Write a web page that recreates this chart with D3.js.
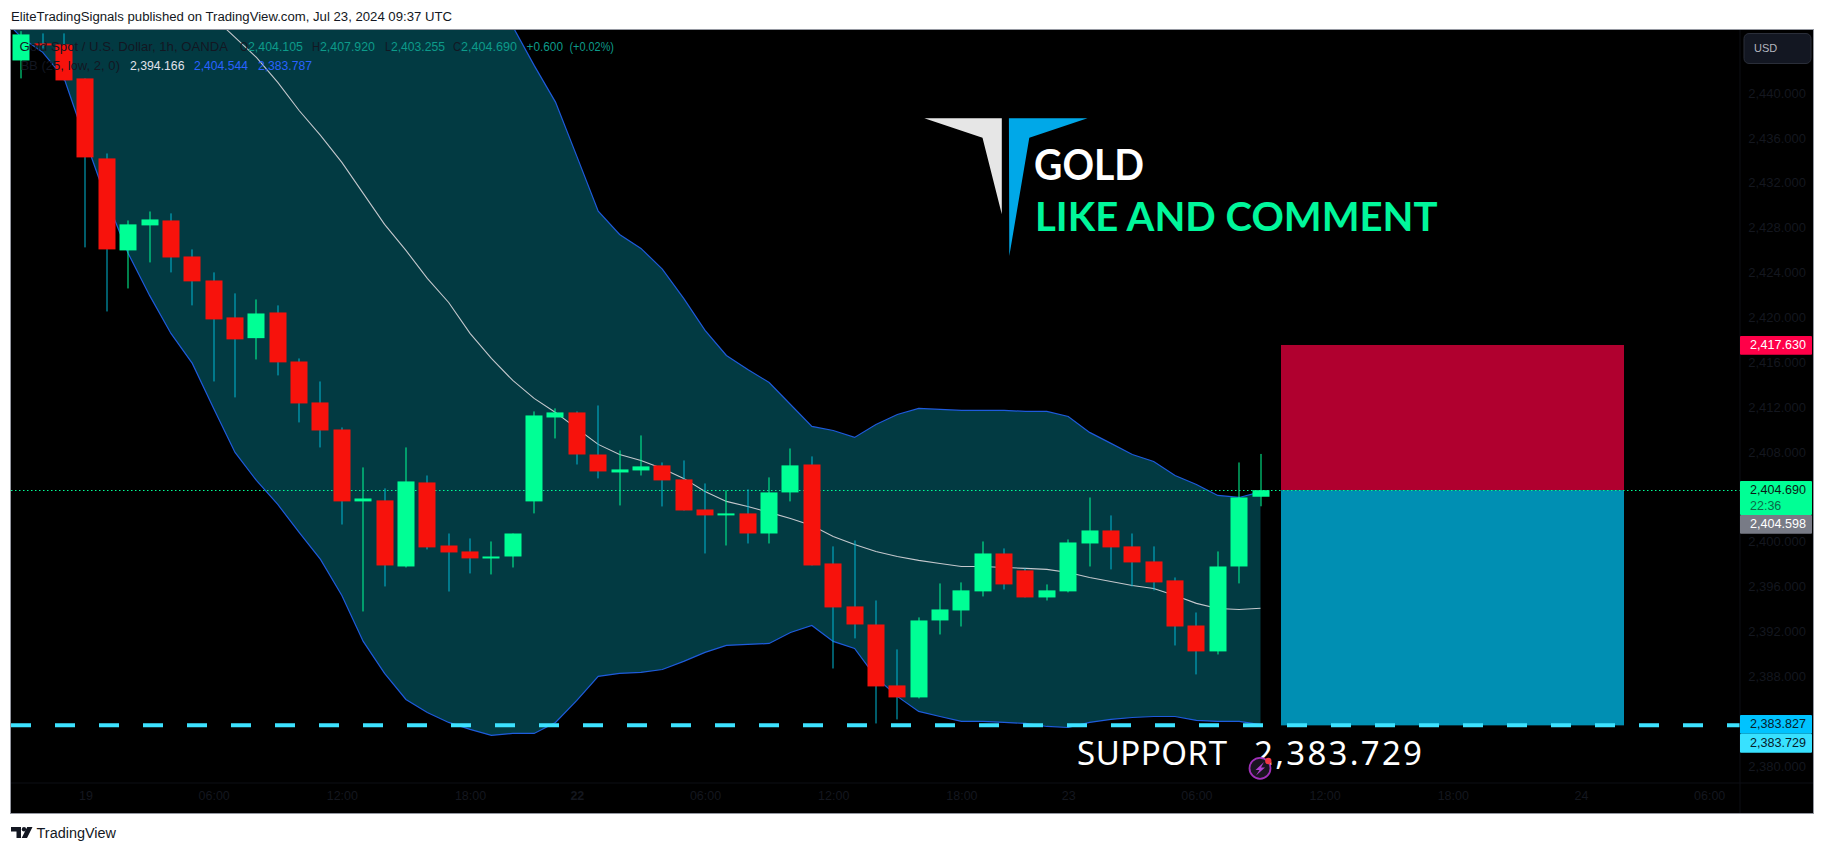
<!DOCTYPE html>
<html><head><meta charset="utf-8">
<script src="https://cdn.jsdelivr.net/npm/d3@7/dist/d3.min.js"></script>
<style>html,body{margin:0;padding:0;background:#fff;overflow:hidden}svg{display:block}text{font-family:"Liberation Sans",sans-serif}</style>
</head><body><svg id="c" width="1825" height="853"></svg>
<script>
const opens=[2442.99,2444.51,2444.42,2441.39,2434.26,2426.06,2428.29,2428.73,2425.52,2423.38,2420.09,2418.24,2420.53,2416.16,2412.51,2410.10,2403.69,2403.78,2397.89,2405.38,2399.76,2399.23,2398.61,2398.78,2403.69,2411.17,2411.62,2407.87,2406.27,2406.45,2406.90,2405.65,2402.97,2402.53,2402.62,2400.83,2404.49,2406.98,2398.16,2394.33,2392.72,2387.29,2386.22,2393.08,2393.97,2395.67,2399.05,2397.54,2395.13,2395.67,2399.94,2401.10,2399.68,2398.34,2396.65,2392.63,2390.32,2397.89,2404.105];
const highs=[2445.60,2445.40,2445.40,2441.39,2434.70,2428.73,2429.53,2429.36,2426.15,2424.10,2422.23,2421.69,2421.16,2416.43,2414.38,2410.28,2406.72,2404.85,2408.50,2406.00,2400.83,2400.39,2400.12,2400.83,2411.71,2411.98,2411.71,2412.24,2408.23,2409.57,2407.16,2407.34,2405.29,2404.67,2404.76,2405.83,2408.41,2407.70,2399.68,2400.21,2394.86,2390.50,2393.35,2396.38,2396.47,2400.12,2399.50,2397.72,2396.29,2400.30,2404.04,2402.44,2400.83,2399.68,2396.91,2393.79,2399.23,2407.16,2407.92];
const lows=[2441.39,2444.06,2441.21,2426.33,2420.62,2422.67,2424.99,2424.10,2421.16,2414.38,2412.96,2416.34,2414.92,2410.73,2408.50,2401.63,2393.88,2396.11,2397.80,2399.41,2395.66,2397.27,2397.18,2397.80,2402.62,2409.30,2406.98,2405.74,2403.33,2406.00,2403.24,2402.88,2399.05,2399.76,2399.94,2399.94,2403.69,2397.98,2388.80,2391.48,2383.90,2384.26,2386.13,2391.83,2392.54,2395.22,2395.84,2395.13,2394.86,2395.58,2397.89,2397.63,2396.11,2395.76,2390.85,2388.27,2390.05,2396.38,2403.255];
const closes=[2445.31,2444.42,2441.21,2434.35,2426.15,2428.38,2428.82,2425.43,2423.30,2419.91,2418.13,2420.44,2416.08,2412.42,2410.01,2403.69,2403.95,2397.98,2405.47,2399.59,2399.14,2398.61,2398.78,2400.83,2411.35,2411.62,2407.87,2406.36,2406.54,2406.81,2405.56,2402.88,2402.44,2402.62,2400.83,2404.49,2406.90,2397.98,2394.24,2392.72,2387.20,2386.22,2393.08,2394.06,2395.76,2399.05,2396.29,2395.13,2395.76,2400.03,2401.10,2399.59,2398.25,2396.47,2392.54,2390.32,2397.89,2404.04,2404.69];
// Bollinger arrays start one bar before the first candle
const bbFirstBar=-1;
const bbUpper=[2490,2489,2488,2487,2486,2485,2484,2483,2482,2481,2480,2479,2478,2477,2476,2474,2472,2469,2466,2463,2459.5,2456.2,2453,2449.8,2446.02,2442.55,2439.28,2434.44,2429.56,2427.48,2426.24,2424.39,2421.78,2418.93,2416.70,2415.45,2414.29,2412.33,2410.37,2410.01,2409.39,2410.55,2411.44,2411.98,2411.89,2411.80,2411.80,2411.80,2411.71,2411.71,2411.26,2409.84,2408.86,2407.87,2407.25,2406.00,2405.20,2404.22,2404.04,2404.544];
const bbBasis=[2467,2466,2464.5,2463,2461,2459,2457,2454.5,2452,2449.5,2446.83,2445.04,2443.26,2441.03,2438.53,2436.31,2433.90,2431.14,2428.38,2426.06,2423.56,2421.42,2418.66,2416.43,2414.47,2412.87,2411.62,2410.19,2408.77,2407.87,2407.34,2406.63,2405.74,2404.58,2403.69,2403.24,2402.71,2402.17,2401.55,2400.57,2399.85,2399.23,2398.78,2398.43,2398.16,2397.89,2397.89,2397.80,2397.72,2397.63,2397.36,2396.91,2396.55,2396.20,2395.93,2395.31,2394.60,2394.15,2394.06,2394.166];
const bbLower=[2447.0,2445.04,2443.71,2441.39,2435.86,2430.51,2425.79,2422.05,2418.66,2415.99,2411.98,2408.05,2405.56,2403.42,2400.92,2398.52,2395.31,2391.21,2388.36,2386.04,2384.88,2383.99,2383.37,2382.83,2383.01,2383.01,2383.99,2385.95,2388.09,2388.36,2388.45,2388.71,2389.43,2390.23,2390.85,2390.94,2391.03,2392.01,2392.63,2391.21,2390.58,2388.00,2386.31,2384.97,2384.52,2384.08,2384.08,2383.99,2383.90,2383.63,2383.54,2383.99,2384.26,2384.43,2384.52,2384.52,2384.17,2384.08,2384.08,2383.787];
const priceTicks=[2380,2388,2392,2396,2400,2408,2412,2416,2420,2424,2428,2432,2436,2440];
const timeTickBars=[3,9,15,21,26,32,38,44,49,55,61,67,73,79];
const timeTickLabels=["19","06:00","12:00","18:00","22","06:00","12:00","18:00","23","06:00","12:00","18:00","24","06:00"];
const lastPrice=2404.69, prevLevel=2404.598, stopLevel=2417.63, bbLevel=2383.827, supportLevel=2383.729;
const positionBars=[59,75];

const svg=d3.select("#c");
const x=d3.scaleLinear().domain([0,58]).range([21.4,1260.5]);
const y=d3.scaleLinear().domain([2400,2440]).range([542.8,94]);
const L=11,R=1813,T=30,B=813,PR=1740,TB=783;
const txtDim="#14171f";

svg.append("rect").attr("x",L).attr("y",T).attr("width",R-L).attr("height",B-T).attr("fill","#000");
svg.append("defs").append("clipPath").attr("id","pane").append("rect").attr("x",L).attr("y",T).attr("width",PR-L).attr("height",TB-T);
const pane=svg.append("g").attr("clip-path","url(#pane)");

// Bollinger band
const bb=d3.range(bbUpper.length).map(i=>({i:i+bbFirstBar,u:bbUpper[i],m:bbBasis[i],l:bbLower[i]}));
pane.append("path").attr("d",d3.area().x(d=>x(d.i)).y0(d=>y(d.l)).y1(d=>y(d.u))(bb)).attr("fill","#023a42");
pane.append("path").attr("d",d3.line().x(d=>x(d.i)).y(d=>y(d.u))(bb)).attr("fill","none").attr("stroke","#1e5bdc").attr("stroke-width",1.2);
pane.append("path").attr("d",d3.line().x(d=>x(d.i)).y(d=>y(d.l))(bb)).attr("fill","none").attr("stroke","#1e5bdc").attr("stroke-width",1.2);
pane.append("path").attr("d",d3.line().x(d=>x(d.i)).y(d=>y(d.m))(bb)).attr("fill","none").attr("stroke","#c4c7cc").attr("stroke-width",1.1);

// position rectangles
const rx0=Math.floor(x(positionBars[0])), rx1=Math.round(x(positionBars[1]));
pane.append("rect").attr("x",rx0).attr("width",rx1-rx0).attr("y",y(stopLevel)).attr("height",y(lastPrice)-y(stopLevel)).attr("fill","#b0002f");
pane.append("rect").attr("x",rx0).attr("width",rx1-rx0).attr("y",y(lastPrice)).attr("height",y(supportLevel)-y(lastPrice)).attr("fill","#008fb3");

// last price dotted line
const ly=Math.floor(y(lastPrice))+0.5;
pane.append("line").attr("x1",L).attr("x2",PR).attr("y1",ly).attr("y2",ly).attr("stroke","#00ff95").attr("stroke-width",1).attr("stroke-dasharray","1.5 2.5");

// candles
const bars=d3.range(opens.length).map(i=>({i,o:opens[i],h:highs[i],l:lows[i],c:closes[i]}));
const g=pane.selectAll("g.k").data(bars).join("g").attr("class","k");
g.append("rect").attr("x",d=>Math.round(x(d.i))-0.5).attr("width",1).attr("y",d=>y(d.h)).attr("height",d=>y(d.l)-y(d.h)).attr("fill",d=>d.c>=d.o?"#00ff95":"#00b8d4");
g.append("rect").attr("x",d=>Math.round(x(d.i))-8.5).attr("width",17).attr("y",d=>y(Math.max(d.o,d.c))).attr("height",d=>Math.max(2,Math.abs(y(d.o)-y(d.c)))).attr("fill",d=>d.c>=d.o?"#00ff95":"#f7120c");

// support dashed line
pane.append("line").attr("x1",L).attr("x2",PR).attr("y1",y(supportLevel)).attr("y2",y(supportLevel)).attr("stroke","#3de2ff").attr("stroke-width",4).attr("stroke-dasharray","20 24");

// logo
pane.append("polygon").attr("points","924.3,118.3 1001.8,118.3 1001.8,214.3 982.5,137.7").attr("fill","#e6e6e6");
pane.append("polygon").attr("points","1008.9,118.3 1087.5,118.3 1029.3,137.7 1009.3,256").attr("fill","#00a8e8");
const big=[{t:"GOLD",x:1034,y:180,w:110,s:42,c:"#fff"},{t:"LIKE AND COMMENT",x:1035,y:230.7,w:402.5,s:41,c:"#00f79b"},{t:"SUPPORT",x:1077,y:765,w:150,s:33,c:"#fff"},{t:"2,383.729",x:1254,y:765,w:168,s:33,c:"#fff"}];
pane.selectAll("text.big").data(big).join("text").attr("class","big").attr("x",d=>d.x).attr("y",d=>d.y).attr("textLength",d=>d.w).attr("lengthAdjust",(d,i)=>i<2?"spacingAndGlyphs":"spacing").attr("fill",d=>d.c).attr("font-size",d=>d.s).style("font-family",(d,i)=>i<2?"Lato":"'Noto Sans'").attr("font-weight",(d,i)=>i<2?700:400).text(d=>d.t);

// news icon
const ic=pane.append("g");
ic.append("circle").attr("cx",1260).attr("cy",768.3).attr("r",10.5).attr("fill","#1a1420").attr("stroke","#a030b8").attr("stroke-width",1.8);
ic.append("polygon").attr("points","1264,762 1255.5,770 1259.5,770 1256,775.5 1265,767.5 1261,767.5").attr("fill","#b040d0");
ic.append("circle").attr("cx",1268.3).attr("cy",761).attr("r",3.2).attr("fill","#f23645");

// separators
svg.append("line").attr("x1",PR).attr("x2",PR).attr("y1",T).attr("y2",B).attr("stroke","#0c0e14");
svg.append("line").attr("x1",L).attr("x2",R).attr("y1",TB).attr("y2",TB).attr("stroke","#0c0e14");

// axes
const ya=svg.append("g").attr("transform",`translate(${PR+66},-1)`).call(d3.axisRight(y).tickValues(priceTicks).tickFormat(d3.format(",.3f")).tickSize(0).tickPadding(0));
ya.select(".domain").remove();
ya.selectAll("text").attr("text-anchor","end").attr("fill",txtDim).attr("font-size",13).style("font-family","'Liberation Sans'");
const xa=svg.append("g").attr("transform",`translate(0,${TB+8})`).call(d3.axisBottom(x).tickValues(timeTickBars).tickFormat((d,i)=>timeTickLabels[i]).tickSize(0).tickPadding(0));
xa.select(".domain").remove();
xa.selectAll("text").attr("fill",txtDim).attr("font-size",12.5).attr("font-weight",(d,i)=>timeTickLabels[i]==="22"?700:400).style("font-family","'Liberation Sans'");

// price labels
const tags=[
 {v:stopLevel,y0:336,y1:354.7,bg:"#ff0048",fg:"#fff",ty:344.3},
 {v:lastPrice,y0:481,y1:515,bg:"#00ff95",fg:"#0b1a14",ty:489.7},
 {v:prevLevel,y0:515,y1:533.7,bg:"#787b86",fg:"#fff",ty:523.7},
 {v:bbLevel,y0:715,y1:733.7,bg:"#00c3ff",fg:"#06202a",ty:723.7},
 {v:supportLevel,y0:733.7,y1:752.7,bg:"#38e1ff",fg:"#06202a",ty:742.7}];
const tg=svg.selectAll("g.t").data(tags).join("g").attr("class","t");
tg.append("rect").attr("x",PR).attr("width",R-1-PR).attr("y",d=>d.y0).attr("height",d=>d.y1-d.y0).attr("rx",1).attr("fill",d=>d.bg);
tg.append("text").attr("x",1750).attr("y",d=>d.ty).attr("dy","0.36em").attr("font-size",13).attr("textLength",56).attr("lengthAdjust","spacingAndGlyphs").attr("fill",d=>d.fg).text(d=>d3.format(",.3f")(d.v));
svg.append("text").attr("x",1750).attr("y",505.2).attr("dy","0.36em").attr("font-size",12.5).attr("fill","#0a6b48").text("22:36");

// USD button
svg.append("rect").attr("x",1744).attr("y",33.5).attr("width",67).attr("height",30).attr("rx",5).attr("fill","#131722").attr("stroke","#2a2e39");
svg.append("text").attr("x",1754).attr("y",48.5).attr("dy","0.36em").attr("font-size",11).attr("fill","#b2b5be").text("USD");

// legend
const legend=[
 {t:"Gold Spot / U.S. Dollar, 1h, OANDA",x:19.6,w:208.4,l:0,c:"#131722"},
 {t:"O",x:240,w:8,l:0,c:"#131722"},{t:"2,404.105",x:248,w:55,l:0,c:"#0d9b8a"},
 {t:"H",x:312,w:8,l:0,c:"#131722"},{t:"2,407.920",x:320,w:55,l:0,c:"#0d9b8a"},
 {t:"L",x:385,w:6,l:0,c:"#131722"},{t:"2,403.255",x:391,w:54,l:0,c:"#0d9b8a"},
 {t:"C",x:453,w:8,l:0,c:"#131722"},{t:"2,404.690",x:461,w:56,l:0,c:"#0d9b8a"},
 {t:"+0.600",x:526.5,w:36.5,l:0,c:"#0d9b8a"},{t:"(+0.02%)",x:569.4,w:44.6,l:0,c:"#0d9b8a"},
 {t:"BB (25, low, 2, 0)",x:20.4,w:99.6,l:1,c:"#131722"},
 {t:"2,394.166",x:130,w:54.5,l:1,c:"#e0e3eb"},{t:"2,404.544",x:194,w:54,l:1,c:"#2962ff"},{t:"2,383.787",x:258,w:54,l:1,c:"#2962ff"}];
svg.selectAll("text.lg").data(legend).join("text").attr("class","lg").attr("x",d=>d.x).attr("y",d=>d.l?65.7:46.7).attr("dy","0.36em").attr("font-size",13).attr("textLength",d=>d.w).attr("lengthAdjust","spacingAndGlyphs").attr("fill",d=>d.c).text(d=>d.t);

// frame
svg.append("rect").attr("x",L-0.5).attr("y",T-0.5).attr("width",R-L+1).attr("height",B-T+1).attr("fill","none").attr("stroke","#9598a1");

// header/footer
svg.append("text").attr("x",11).attr("y",16.7).attr("dy","0.36em").attr("font-size",12).attr("textLength",441).attr("lengthAdjust","spacingAndGlyphs").attr("fill","#131722").text("EliteTradingSignals published on TradingView.com, Jul 23, 2024 09:37 UTC");
svg.append("path").attr("d","M11,827H21V838H16.5V831.5H11Z M32.5,827L27,838H21.7L27.2,827Z").attr("fill","#131722");
svg.append("circle").attr("cx",24).attr("cy",829.3).attr("r",2.2).attr("fill","#131722");
svg.append("text").attr("x",36.6).attr("y",833).attr("dy","0.36em").attr("font-size",14).attr("textLength",79.4).attr("lengthAdjust","spacingAndGlyphs").attr("fill","#131722").text("TradingView");
</script></body></html>
